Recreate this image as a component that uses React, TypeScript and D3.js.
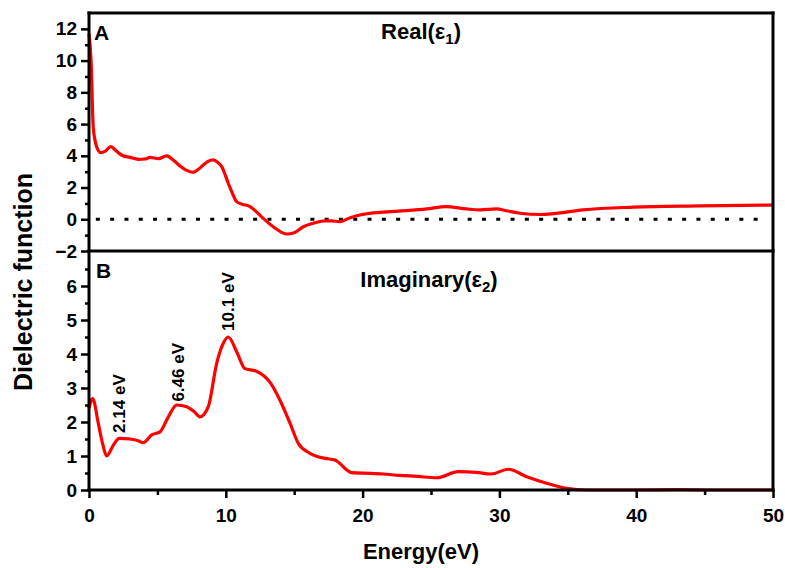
import React, { useEffect, useRef } from "react";
import * as d3 from "d3";

// Real part (epsilon 1)
const realEnergy = [0, 0.15, 0.31, 0.55, 0.85, 1.2, 1.58, 2.0, 2.38, 3.0, 3.6, 4.1, 4.46, 5.07, 5.68, 6.2, 6.65, 7.1, 7.62, 8.0, 8.35, 8.7, 9.08, 9.4, 9.7, 10.18, 10.5, 10.79, 11.2, 11.77, 12.2, 12.74, 13.72, 14.45, 15.0, 15.67, 16.4, 17.13, 17.7, 18.35, 19.1, 19.8, 21.27, 23.2, 24.7, 26.1, 27.6, 28.6, 29.8, 30.5, 31.5, 33.0, 33.94, 36.1, 39.8, 44.7, 50];
const realValue = [11.7, 10.0, 5.8, 4.6, 4.2, 4.3, 4.58, 4.3, 4.05, 3.9, 3.78, 3.8, 3.9, 3.82, 3.99, 3.7, 3.36, 3.1, 2.96, 3.15, 3.42, 3.65, 3.74, 3.6, 3.32, 2.27, 1.6, 1.11, 0.95, 0.8, 0.5, 0.06, -0.63, -0.93, -0.85, -0.47, -0.25, -0.11, -0.1, -0.15, 0.1, 0.27, 0.44, 0.54, 0.65, 0.8, 0.65, 0.59, 0.65, 0.54, 0.38, 0.3, 0.35, 0.59, 0.76, 0.84, 0.9];

// Imaginary part (epsilon 2)
const imagEnergy = [0, 0.27, 0.68, 1.0, 1.29, 1.78, 2.21, 3.0, 3.6, 3.97, 4.58, 5.19, 5.8, 6.41, 7.14, 7.7, 8.11, 8.72, 9.33, 9.8, 10.18, 10.8, 11.4, 12.2, 13.3, 13.96, 14.7, 15.3, 16.15, 17.25, 17.98, 19.2, 20.54, 21.5, 22.7, 24.0, 25.4, 27.0, 28.3, 29.4, 30.65, 32.0, 33.45, 34.9, 36.4, 40, 43, 46, 50];
const imagValue = [2.4, 2.69, 1.96, 1.35, 1.0, 1.32, 1.52, 1.5, 1.45, 1.39, 1.62, 1.71, 2.15, 2.5, 2.45, 2.3, 2.15, 2.45, 3.72, 4.3, 4.5, 4.06, 3.57, 3.5, 3.13, 2.64, 1.96, 1.37, 1.08, 0.93, 0.88, 0.51, 0.49, 0.47, 0.43, 0.4, 0.36, 0.54, 0.52, 0.47, 0.61, 0.39, 0.2, 0.05, 0.0, 0.0, 0.01, 0.0, 0.0];

// Peak annotations in panel B
const peakEnergy = [2.14, 6.46, 10.1];
const peakLabelValue = [1.68, 2.6, 4.68];
const peakLabels = ["2.14 eV", "6.46 eV", "10.1 eV"];

const xTicks = [0, 10, 20, 30, 40, 50];
const realTicks = [-2, 0, 2, 4, 6, 8, 10, 12];
const imagTicks = [0, 1, 2, 3, 4, 5, 6];

const FONT = "'Liberation Sans', Arial, sans-serif";

export default function App() {
  const ref = useRef<SVGSVGElement>(null);

  useEffect(() => {
    const svg = d3.select(ref.current);
    svg.selectAll("*").remove();

    const left = 89, right = 773;
    const x = d3.scaleLinear().domain([0, 50]).range([left, right]);
    const yTop = d3.scaleLinear().domain([-2, 13]).range([251, 13]);
    const yBot = d3.scaleLinear().domain([0, 7]).range([490, 252]);
    const fmt = d3.format("d");

    const g = svg.append("g").style("font-family", FONT).style("font-weight", "bold");

    // dotted zero line in panel A
    g.append("line")
      .attr("x1", x(0.5)).attr("x2", x(49.3))
      .attr("y1", yTop(0)).attr("y2", yTop(0))
      .attr("stroke", "#000").attr("stroke-width", 3)
      .attr("stroke-dasharray", "4,10.3");

    // curves
    const realData = realEnergy.map((e, i) => [e, realValue[i]] as [number, number]);
    const imagData = imagEnergy.map((e, i) => [e, imagValue[i]] as [number, number]);

    g.append("path")
      .datum(realData)
      .attr("fill", "none").attr("stroke", "#ff0000").attr("stroke-width", 3.2)
      .attr("d", d3.line<[number, number]>().x(d => x(d[0])).y(d => yTop(d[1])).curve(d3.curveMonotoneX));

    g.append("path")
      .datum(imagData)
      .attr("fill", "none").attr("stroke", "#ff0000").attr("stroke-width", 3.2)
      .attr("d", d3.line<[number, number]>().x(d => x(d[0])).y(d => yBot(d[1])).curve(d3.curveMonotoneX));

    // y axes
    const axisTop = g.append("g").attr("transform", `translate(${left},0)`)
      .call(d3.axisLeft(yTop).tickValues(realTicks).tickFormat(fmt as any).tickSize(8).tickSizeOuter(0).tickPadding(4));
    const axisTopMinor = g.append("g").attr("transform", `translate(${left},0)`)
      .call(d3.axisLeft(yTop).tickValues([-1, 1, 3, 5, 7, 9, 11]).tickSize(4).tickFormat(() => "").tickSizeOuter(0));
    const axisBot = g.append("g").attr("transform", `translate(${left},0)`)
      .call(d3.axisLeft(yBot).tickValues(imagTicks).tickFormat(fmt as any).tickSize(8).tickSizeOuter(0).tickPadding(4));
    const axisBotMinor = g.append("g").attr("transform", `translate(${left},0)`)
      .call(d3.axisLeft(yBot).tickValues([0.5, 1.5, 2.5, 3.5, 4.5, 5.5, 6.5]).tickSize(4).tickFormat(() => "").tickSizeOuter(0));

    // x axis
    const axisX = g.append("g").attr("transform", `translate(0,${yBot(0)})`)
      .call(d3.axisBottom(x).tickValues(xTicks).tickFormat(fmt as any).tickSize(8).tickSizeOuter(0).tickPadding(11));
    const axisXMinor = g.append("g").attr("transform", `translate(0,${yBot(0)})`)
      .call(d3.axisBottom(x).tickValues([5, 15, 25, 35, 45]).tickSize(5).tickFormat(() => "").tickSizeOuter(0));

    [axisTop, axisTopMinor, axisBot, axisBotMinor, axisX, axisXMinor].forEach(a => {
      a.select(".domain").remove();
      a.selectAll("line").attr("stroke", "#000").attr("stroke-width", 2.5);
      a.selectAll("text").style("font-size", "19px").style("font-family", FONT).style("font-weight", "bold").attr("fill", "#000");
    });

    // frame of both panels
    const frame = [
      [x(0), yTop(13), x(50), yTop(13)],
      [x(0), yTop(-2), x(50), yTop(-2)],
      [x(0), yBot(0), x(50), yBot(0)],
      [x(0), yTop(13), x(0), yBot(0)],
      [x(50), yTop(13), x(50), yBot(0)],
    ];
    g.selectAll(".frame").data(frame).enter().append("line")
      .attr("x1", d => d[0]).attr("y1", d => d[1]).attr("x2", d => d[2]).attr("y2", d => d[3])
      .attr("stroke", "#000").attr("stroke-width", 3).attr("stroke-linecap", "square");

    // panel letters
    g.append("text").attr("x", 94).attr("y", 40).style("font-size", "21px").text("A");
    g.append("text").attr("x", 96).attr("y", 278).style("font-size", "21px").text("B");

    // panel titles
    const t1 = g.append("text").attr("x", 421).attr("y", 39).attr("text-anchor", "middle").style("font-size", "22px");
    t1.append("tspan").text("Real(ε");
    t1.append("tspan").attr("dy", 5).style("font-size", "15px").text("1");
    t1.append("tspan").attr("dy", -5).text(")");

    const t2 = g.append("text").attr("x", 429).attr("y", 287).attr("text-anchor", "middle").style("font-size", "22px");
    t2.append("tspan").text("Imaginary(ε");
    t2.append("tspan").attr("dy", 5).style("font-size", "15px").text("2");
    t2.append("tspan").attr("dy", -5).text(")");

    // peak labels
    g.selectAll(".peak").data(peakLabels).enter().append("text")
      .attr("transform", (d, i) => `translate(${x(peakEnergy[i]) + 1},${yBot(peakLabelValue[i])}) rotate(-90)`)
      .attr("dy", "0.35em")
      .style("font-size", "17px")
      .text(d => d);

    // axis titles
    g.append("text").attr("x", 421).attr("y", 559).attr("text-anchor", "middle").style("font-size", "22px").text("Energy(eV)");
    g.append("text").attr("transform", "translate(32,282) rotate(-90)").attr("text-anchor", "middle")
      .style("font-size", "25px").text("Dielectric function");
  }, []);

  return (
    <div style={{ position: "absolute", left: 0, top: 0 }}>
      <svg ref={ref} width={785} height={568} style={{ display: "block", background: "#fff" }} />
    </div>
  );
}
